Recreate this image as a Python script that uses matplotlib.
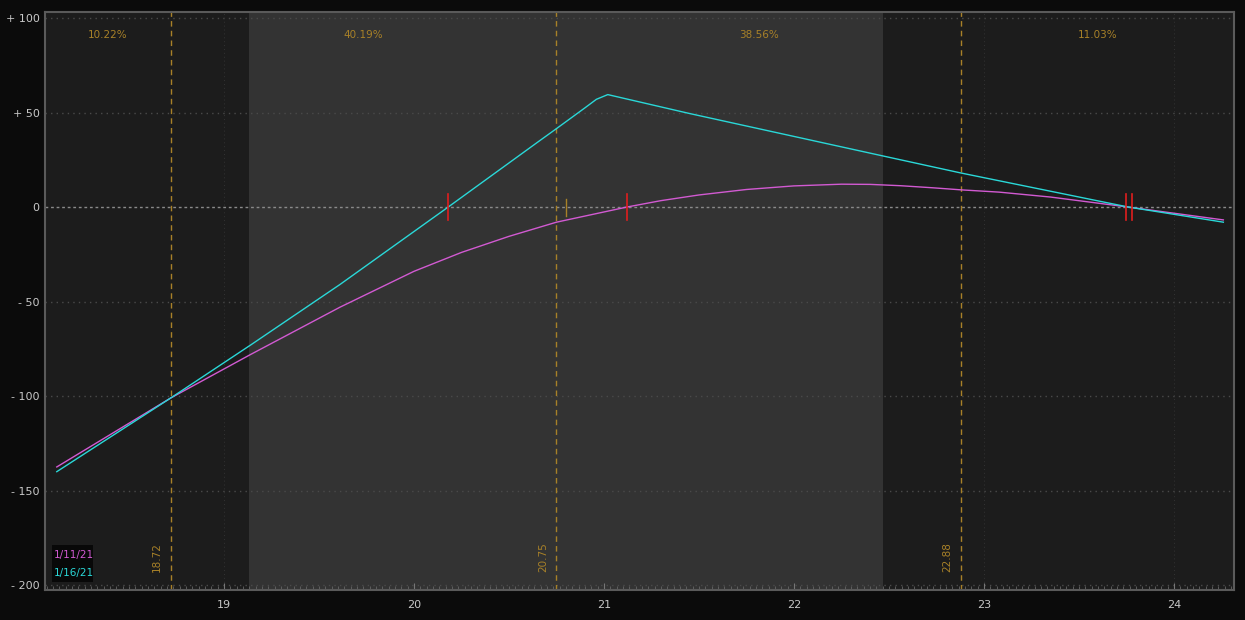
import matplotlib
matplotlib.use("Agg")
import matplotlib.pyplot as plt
from matplotlib.ticker import MultipleLocator


# price axis / P&L values
x_exp = [18.12, 18.72, 19.14, 19.61, 20.18, 20.66, 20.75, 20.9, 20.96, 21.02,
         21.45, 22.47, 22.88, 23.76, 24.26]
pl_exp = [-140, -101, -73, -41, 0, 35, 41.5, 52.5, 57, 59.5,
          49.5, 27, 18, 0, -8]

x_now = [18.12, 18.72, 19.14, 19.61, 20.0, 20.25, 20.5, 20.75, 21.12, 21.3,
         21.5, 21.75, 22.0, 22.25, 22.4, 22.56, 22.73, 22.88, 23.08, 23.35,
         23.76, 24.26]
pl_now = [-137.5, -101, -78, -53, -34, -24, -15.5, -8, 0, 3.4,
          6.4, 9.3, 11.2, 12.1, 12.0, 11.3, 10.2, 9.1, 7.9, 5.3,
          0, -6.8]

series_labels = ["1/11/21", "1/16/21"]

prob_edges = [18.72, 20.75, 22.88]
prob_pcts = ["10.22%", "40.19%", "38.56%", "11.03%"]

breakevens = [20.18, 21.12, 23.75, 23.78]
last_price = 20.80

band = (19.13, 22.47)

x_ticks = [19, 20, 21, 22, 23, 24]
y_ticks = [100, 50, 0, -50, -100, -150, -200]
y_labels = ["+ 100", "+ 50", "0", "- 50", "- 100", "- 150", "- 200"]

XMIN, XMAX = 18.058, 24.316
YMIN, YMAX = -202.6, 103.2

GOLD = "#a88128"
MAG = "#d25ad2"
CYAN = "#2ad8d8"
TXT = "#c8c8c8"

fig = plt.figure(figsize=(12.45, 6.2), dpi=100, facecolor="#0b0b0b")
ax = fig.add_axes([45 / 1245, 1 - 590 / 620, (1234 - 45) / 1245, (590 - 12) / 620])
ax.set_facecolor("#1c1c1c")
ax.set_xlim(XMIN, XMAX)
ax.set_ylim(YMIN, YMAX)

# lighter one-sigma band
ax.axvspan(band[0], band[1], color="#333333", zorder=0, lw=0)

# grid
for y in y_ticks:
    if y == 0:
        ax.axhline(0, color="#8a8a8a", lw=1.0, ls=(0, (2, 2)), zorder=1)
    else:
        ax.axhline(y, color="#4a4a4a", lw=1.0, ls=(0, (1, 3)), zorder=1)
for x in x_ticks:
    ax.axvline(x, color="#333333", lw=0.7, ls=(0, (1, 3)), zorder=1)

# probability boundaries
for xe in prob_edges:
    ax.axvline(xe, color=GOLD, lw=1.0, ls=(0, (4, 3)), zorder=2)
    ax.text(xe - 0.045, -185, f"{xe:.2f}", color=GOLD, rotation=90,
            fontsize=7.5, ha="right", va="center")

centers = [(XMIN + prob_edges[0]) / 2,
           (prob_edges[0] + prob_edges[1]) / 2,
           (prob_edges[1] + prob_edges[2]) / 2,
           (prob_edges[2] + XMAX) / 2]
for cx, p in zip(centers, prob_pcts):
    ax.text(cx, 91, p, color=GOLD, fontsize=7.5, ha="center", va="center")

# curves
ax.plot(x_now, pl_now, color=MAG, lw=1.0, zorder=4)
ax.plot(x_exp, pl_exp, color=CYAN, lw=1.0, zorder=5)

# breakeven markers
for b in breakevens:
    ax.plot([b, b], [-7, 7], color="#e01e1e", lw=1.2, zorder=6)
ax.plot([last_price, last_price], [-4.5, 4.5], color=GOLD, lw=1.0, zorder=6)

# legend box
ax.add_patch(plt.Rectangle((18.095, -198.5), 0.215, 19.5, color="#080808",
                           zorder=6, lw=0))
ax.text(18.107, -184, series_labels[0], color=MAG, fontsize=7.5, va="center",
        ha="left", zorder=7)
ax.text(18.107, -193.6, series_labels[1], color=CYAN, fontsize=7.5, va="center",
        ha="left", zorder=7)

# ticks
ax.set_xticks(x_ticks)
ax.set_xticklabels([str(t) for t in x_ticks])
ax.xaxis.set_minor_locator(MultipleLocator(1 / 30))
ax.set_yticks(y_ticks)
ax.set_yticklabels(y_labels)
ax.tick_params(axis="x", which="major", direction="in", length=5, color="#777777",
               labelcolor=TXT, labelsize=8, pad=7)
ax.tick_params(axis="x", which="minor", direction="in", length=3, color="#666666")
ax.tick_params(axis="y", which="major", length=0, labelcolor=TXT, labelsize=8, pad=4)

for s in ax.spines.values():
    s.set_color("#5a5a5a")
    s.set_linewidth(1.5)

fig.savefig("out.png", dpi=100, facecolor=fig.get_facecolor())
